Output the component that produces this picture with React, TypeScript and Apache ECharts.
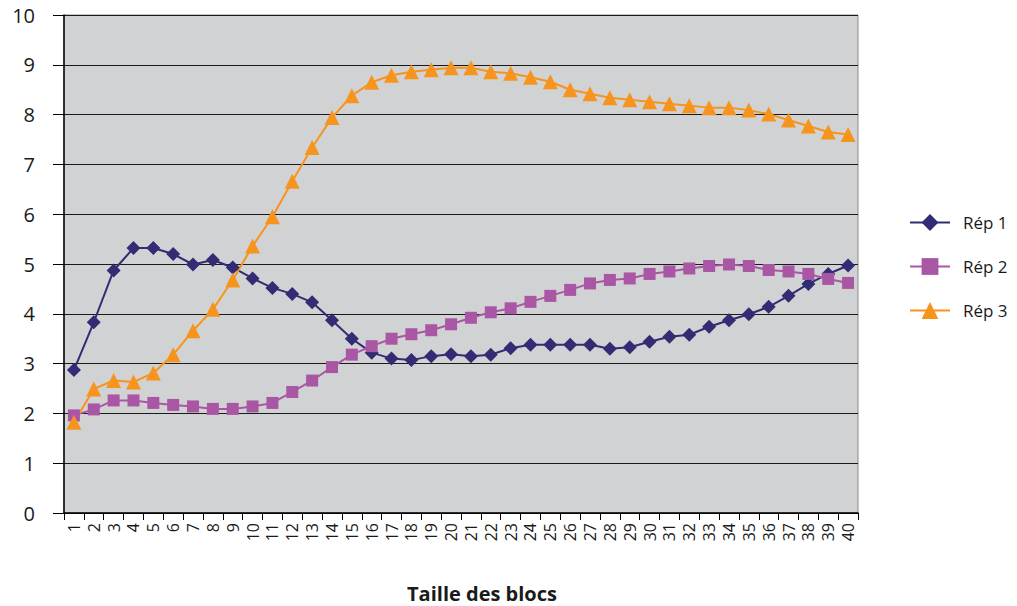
import React, { useEffect, useRef } from "react";
import * as echarts from "echarts";

const categories: string[] = Array.from({ length: 40 }, (_, i) => String(i + 1));

const rep1: number[] = [
  2.87, 3.83, 4.87, 5.32, 5.32, 5.2, 4.99, 5.08, 4.93, 4.71,
  4.52, 4.4, 4.23, 3.87, 3.5, 3.22, 3.1, 3.07, 3.15, 3.19,
  3.15, 3.18, 3.31, 3.38, 3.38, 3.38, 3.38, 3.3, 3.33, 3.44,
  3.54, 3.58, 3.74, 3.87, 3.99, 4.14, 4.36, 4.6, 4.8, 4.97,
];

const rep2: number[] = [
  1.96, 2.08, 2.26, 2.26, 2.21, 2.17, 2.14, 2.09, 2.09, 2.14,
  2.21, 2.43, 2.66, 2.93, 3.18, 3.35, 3.5, 3.59, 3.67, 3.79,
  3.92, 4.03, 4.11, 4.24, 4.36, 4.48, 4.61, 4.68, 4.71, 4.8,
  4.85, 4.91, 4.96, 4.99, 4.96, 4.88, 4.85, 4.8, 4.7, 4.62,
];

const rep3: number[] = [
  1.82, 2.49, 2.66, 2.63, 2.81, 3.18, 3.66, 4.09, 4.68, 5.36,
  5.95, 6.66, 7.34, 7.94, 8.38, 8.65, 8.79, 8.86, 8.9, 8.94,
  8.94, 8.86, 8.83, 8.75, 8.66, 8.5, 8.42, 8.34, 8.3, 8.26,
  8.22, 8.18, 8.14, 8.14, 8.09, 8.01, 7.89, 7.77, 7.65, 7.6,
];

const seriesNames = ["Rép 1", "Rép 2", "Rép 3"];
const xAxisTitle = "Taille des blocs";

const FONT = "'Open Sans', 'Noto Sans', sans-serif";

export default function App() {
  const ref = useRef<HTMLDivElement>(null);

  useEffect(() => {
    if (!ref.current) return;
    const chart = echarts.init(ref.current, undefined, { renderer: "svg" });
    const colors = ["#312C73", "#A957A4", "#F7941D"];
    const symbols = ["diamond", "rect", "triangle"];
    const sizes = [14, 12, 15];
    const data = [rep1, rep2, rep3];
    chart.setOption({
      animation: false,
      backgroundColor: "#ffffff",
      grid: {
        left: 64,
        right: 159,
        top: 15,
        bottom: 93,
        show: true,
        backgroundColor: "#D1D2D4",
        borderColor: "#8a8a8a",
        borderWidth: 1,
      },
      legend: {
        orient: "vertical",
        left: 904,
        top: 209,
        itemWidth: 40,
        itemHeight: 21,
        itemGap: 27,
        textStyle: { fontFamily: FONT, fontSize: 17, color: "#1a1a1a", padding: [0, 0, 0, 8] },
        data: seriesNames,
      },
      graphic: [
        {
          type: "text",
          x: 482,
          y: 593,
          style: {
            text: xAxisTitle,
            font: `bold 20px ${FONT}`,
            fill: "#1a1a1a",
            textAlign: "center",
            textVerticalAlign: "middle",
          },
        },
      ],
      xAxis: {
        type: "category",
        data: categories,
        boundaryGap: true,
        axisLine: { lineStyle: { color: "#000", width: 1.5 } },
        axisTick: { show: true, length: 7, lineStyle: { color: "#000" } },
        axisLabel: {
          rotate: 90,
          interval: 0,
          margin: 10,
          fontFamily: FONT,
          fontSize: 16,
          color: "#1a1a1a",
        },
        splitLine: { show: false },
      },
      yAxis: {
        type: "value",
        min: 0,
        max: 10,
        interval: 1,
        axisLine: { show: true, lineStyle: { color: "#000", width: 1.5 } },
        axisTick: { show: true, length: 11, lineStyle: { color: "#000" } },
        axisLabel: {
          margin: 29,
          fontFamily: FONT,
          fontSize: 20,
          color: "#1a1a1a",
        },
        splitLine: { show: true, lineStyle: { color: "#1a1a1a", width: 1.2 } },
      },
      series: seriesNames.map((name, i) => ({
        name,
        type: "line",
        data: data[i],
        symbol: symbols[i],
        symbolSize: sizes[i],
        showAllSymbol: true,
        itemStyle: { color: colors[i] },
        lineStyle: { color: colors[i], width: 2 },
        emphasis: { disabled: true },
      })),
    });
    return () => chart.dispose();
  }, []);

  return (
    <div
      ref={ref}
      style={{ position: "fixed", left: 0, top: 0, width: 1017, height: 606, background: "#fff" }}
    />
  );
}
